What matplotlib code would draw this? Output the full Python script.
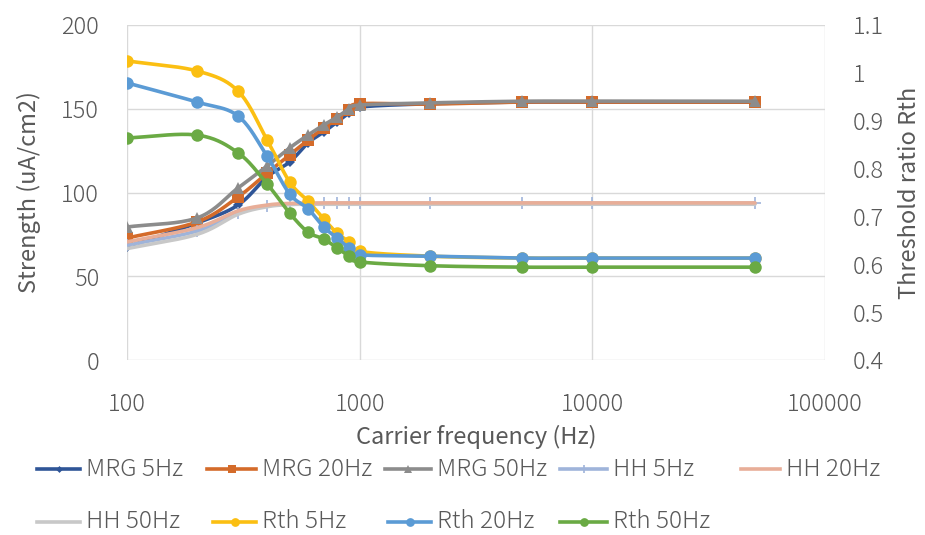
import numpy as np
import matplotlib
matplotlib.use("Agg")
from matplotlib import pyplot as plt
from matplotlib.lines import Line2D

plt.rcParams['font.family'] = ['Noto Sans CJK JP', 'DejaVu Sans']
plt.rcParams['font.weight'] = 'light'

freq = [100, 200, 300, 400, 500, 600, 700, 800, 900, 1000, 2000, 5000, 10000, 50000]

# strength, left axis (uA/cm2)
mrg_5 = [67.5, 81.8, 92.5, 109.3, 118.2, 129.6, 136.1, 142.1, 147.5, 151.0, 153.0, 154.0, 154.0, 154.0]
mrg_20 = [72.8, 82.4, 97.3, 111.6, 122.4, 131.3, 138.5, 143.9, 149.3, 153.0, 152.8, 154.0, 154.0, 154.0]
mrg_50 = [79.4, 84.8, 102.7, 115.8, 126.6, 134.3, 140.3, 145.0, 149.9, 152.2, 153.5, 154.5, 154.5, 154.5]
hh_5 = [68.5, 77.0, 88.0, 92.0, 93.0, 93.3, 93.5, 93.5, 93.5, 93.5, 93.5, 93.5, 93.5, 93.5]
hh_20 = [70.5, 79.0, 89.0, 92.5, 93.5, 93.7, 93.8, 93.8, 93.8, 93.8, 93.8, 93.8, 93.8, 93.8]
hh_50 = [66.5, 75.0, 87.0, 91.5, 92.8, 93.0, 93.0, 93.0, 93.0, 93.0, 93.0, 93.0, 93.0, 93.0]

# threshold ratio, right axis
rth_5 = [1.025, 1.004, 0.962, 0.860, 0.772, 0.732, 0.695, 0.665, 0.647, 0.627, 0.617, 0.613, 0.613, 0.613]
rth_20 = [0.979, 0.939, 0.910, 0.826, 0.747, 0.716, 0.678, 0.655, 0.634, 0.620, 0.617, 0.613, 0.613, 0.613]
rth_50 = [0.864, 0.870, 0.833, 0.768, 0.707, 0.667, 0.653, 0.634, 0.617, 0.605, 0.597, 0.594, 0.594, 0.594]

left_ticks = [0, 50, 100, 150, 200]
right_ticks = [0.4, 0.5, 0.6, 0.7, 0.8, 0.9, 1.0, 1.1]
right_labels = ['0.4', '0.5', '0.6', '0.7', '0.8', '0.9', '1', '1.1']
x_ticks = [100, 1000, 10000, 100000]

txt = '#595959'
W, H = 925, 535


def smooth(x, y, n=20):
    # catmull-rom through the points in log-x space, like a smoothed excel line
    lx = np.log10(x)
    y = np.asarray(y, dtype=float)
    px = np.concatenate([[2 * lx[0] - lx[1]], lx, [2 * lx[-1] - lx[-2]]])
    py = np.concatenate([[2 * y[0] - y[1]], y, [2 * y[-1] - y[-2]]])
    t = np.linspace(0, 1, n, endpoint=False)
    ox, oy = [], []
    for i in range(1, len(px) - 2):
        for p, o in ((px, ox), (py, oy)):
            p0, p1, p2, p3 = p[i - 1], p[i], p[i + 1], p[i + 2]
            o.extend(0.5 * (2 * p1 + (-p0 + p2) * t + (2 * p0 - 5 * p1 + 4 * p2 - p3) * t ** 2
                            + (-p0 + 3 * p1 - 3 * p2 + p3) * t ** 3))
    ox.append(lx[-1])
    oy.append(y[-1])
    return 10 ** np.array(ox), np.array(oy)


def draw(ax, y, color, marker, ms, z, lw=2.6, mew=0.0):
    sx, sy = smooth(freq, y)
    ax.plot(sx, sy, color=color, lw=lw, solid_capstyle='round', zorder=z)
    if marker:
        ax.plot(freq, y, ls='none', marker=marker, ms=ms, color=color, mec=color, mew=mew,
                zorder=z + 0.05)


fig = plt.figure(figsize=(9.25, 5.35), dpi=100)
ax = fig.add_axes([127 / W, 1 - 360 / H, 698 / W, 335 / H])
ax2 = ax.twinx()

series = [
    (ax, mrg_5, '#2f5597', 'D', 5, 0, 'MRG 5Hz'),
    (ax, mrg_20, '#d46b2a', 's', 8, 0, 'MRG 20Hz'),
    (ax, mrg_50, '#8c8c8c', '^', 8, 0, 'MRG 50Hz'),
    (ax, hh_5, '#9fb4da', '+', 9, 1.2, 'HH 5Hz'),
    (ax, hh_50, '#c8c8c8', None, 0, 0, 'HH 50Hz'),
    (ax, hh_20, '#e8ae98', None, 0, 0, 'HH 20Hz'),
    (ax2, rth_5, '#fbbf12', 'o', 9, 0, 'Rth 5Hz'),
    (ax2, rth_20, '#5b9bd5', 'o', 9, 0, 'Rth 20Hz'),
    (ax2, rth_50, '#6aaa44', 'o', 9, 0, 'Rth 50Hz'),
]
style = {}
for i, (a, y, c, m, ms, mew, name) in enumerate(series):
    draw(a, y, c, m, ms, 3 + i * 0.1, mew=mew)
    style[name] = (c, m, ms, mew)

ax.set_xscale('log')
ax.set_xlim(100, 100000)
ax.set_ylim(0, 200)
ax2.set_ylim(0.4, 1.1)
ax.set_xticks(x_ticks)
ax.set_xticklabels([str(v) for v in x_ticks])
ax.xaxis.set_minor_locator(matplotlib.ticker.NullLocator())
ax.set_yticks(left_ticks)
ax2.set_yticks(right_ticks)
ax2.set_yticklabels(right_labels)

ax.grid(True, color='#d9d9d9', lw=1.0)
ax.set_axisbelow(True)
for a in (ax, ax2):
    for s in a.spines.values():
        s.set_visible(False)
    a.tick_params(length=0, labelsize=17, colors=txt, pad=20)
ax.tick_params(axis='x', pad=23)

ax.set_xlabel('Carrier frequency (Hz)', fontsize=17, color=txt, labelpad=6)
ax.set_ylabel('Strength (uA/cm2)', fontsize=17, color=txt, labelpad=15)
ax2.set_ylabel('Threshold ratio Rth', fontsize=17, color=txt, labelpad=10)

# legend laid out by hand: (name, handle left px, text left px, row centre px)
legend_rows = [
    ('MRG 5Hz', 37, 86, 469), ('MRG 20Hz', 207, 262, 469), ('MRG 50Hz', 385, 437, 469),
    ('HH 5Hz', 560, 613, 469), ('HH 20Hz', 741, 786, 469),
    ('HH 50Hz', 37, 86, 522), ('Rth 5Hz', 213, 262, 522), ('Rth 20Hz', 388, 437, 522),
    ('Rth 50Hz', 560, 613, 522),
]
for name, hx, tx, yc in legend_rows:
    c, m, ms, mew = style[name]
    x0, x1, yy = hx / W, (tx - 6) / W, 1 - yc / H
    fig.add_artist(Line2D([x0, x1], [yy, yy], transform=fig.transFigure, color=c, lw=2.6))
    if m:
        fig.add_artist(Line2D([(x0 + x1) / 2], [yy], transform=fig.transFigure, ls='none',
                              marker=m, ms=ms * 0.7, color=c, mec=c, mew=mew))
    fig.text(tx / W, yy, name, fontsize=17.5, color=txt, va='center', ha='left')

fig.savefig('out.png', dpi=100)
